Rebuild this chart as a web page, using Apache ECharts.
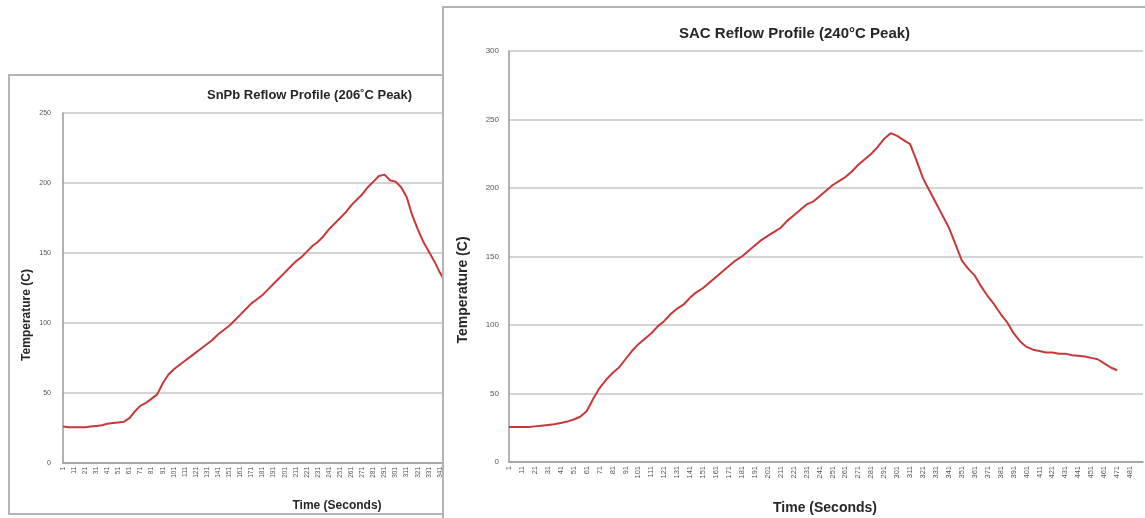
<!DOCTYPE html>
<html>
<head>
<meta charset="utf-8">
<title>Reflow profiles</title>
<script src="https://cdn.jsdelivr.net/npm/echarts@6/dist/echarts.min.js"></script>
<style>
  html, body { margin: 0; padding: 0; width: 1145px; height: 518px; overflow: hidden; background: #fff; }
  #snpbBox { position: absolute; left: 8px; top: 74px; width: 435px; height: 437px; overflow: hidden;
             border: 2px solid #b4b4b4; border-right: none; background: #fff; }
  #snpb { width: 520px; height: 437px; }
  #sac { position: absolute; left: 442px; top: 6px; width: 703px; height: 530px;
         border-left: 2px solid #b4b4b4; border-top: 2px solid #b4b4b4; background: #fff; }
</style>
</head>
<body>
<div id="snpbBox"><div id="snpb"></div></div>
<div id="sac"></div>
<script>
// SnPb profile, one reading every 5 s
const snpbTimes = [1, 6, 11, 16, 21, 26, 31, 36, 41, 46, 51, 56, 61, 66, 71, 76, 81, 86, 91, 96,
  101, 106, 111, 116, 121, 126, 131, 136, 141, 146, 151, 156, 161, 166, 171, 176, 181, 186, 191, 196,
  201, 206, 211, 216, 221, 226, 231, 236, 241, 246, 251, 256, 261, 266, 271, 276, 281, 286, 291, 296,
  301, 306, 311, 316, 321, 326, 331, 336, 341, 346, 351]
const snpbTemp = [26, 25.5, 25.5, 25.5, 25.5, 26, 26.5, 27, 28, 28.5, 29, 29.5, 32, 37, 41, 43, 46, 49, 57, 63,
  67, 70, 73, 76, 79, 82, 85, 88, 92, 95, 98, 102, 106, 110, 114, 117, 120, 124, 128, 132,
  136, 140, 144, 147, 151, 155, 158, 162, 167, 171, 175, 179, 184, 188, 192, 197, 201, 205, 206, 202,
  201, 197, 190, 177, 167, 158, 151, 144, 136, 129, 122]

// SAC profile, one reading every 5 s
const sacTimes = [1, 6, 11, 16, 21, 26, 31, 36, 41, 46, 51, 56, 61, 66, 71, 76, 81, 86, 91, 96,
  101, 106, 111, 116, 121, 126, 131, 136, 141, 146, 151, 156, 161, 166, 171, 176, 181, 186, 191, 196,
  201, 206, 211, 216, 221, 226, 231, 236, 241, 246, 251, 256, 261, 266, 271, 276, 281, 286, 291, 296,
  301, 306, 311, 316, 321, 326, 331, 336, 341, 346, 351, 356, 361, 366, 371, 376, 381, 386, 391, 396,
  401, 406, 411, 416, 421, 426, 431, 436, 441, 446, 451, 456, 461, 466, 471, 476, 481, 486, 491]
const sacTemp = [25.5, 25.5, 25.5, 25.5, 26, 26.5, 27, 27.5, 28.5, 29.5, 31, 33, 37, 46, 54, 60, 65, 69, 75, 81,
  86, 90, 94, 99, 103, 108, 112, 115, 120, 124, 127, 131, 135, 139, 143, 147, 150, 154, 158, 162,
  165, 168, 171, 176, 180, 184, 188, 190, 194, 198, 202, 205, 208, 212, 217, 221, 225, 230, 236, 240,
  238, 235, 232, 220, 207, 198, 189, 180, 171, 159, 147, 141, 136, 128, 121, 115, 108, 102, 94, 88,
  84, 82, 81, 80, 80, 79, 79, 78, 77.5, 77, 76, 75, 72, 69, 67, null, null, null, null]

const lineColor = '#c8383a'
const gridGrey = '#c4c4c4'
const labelGrey = '#555'
const fontFam = '"Liberation Sans", Arial, sans-serif'

function profileOption(cfg) {
  return {
    animation: false,
    title: {
      text: cfg.title,
      left: cfg.titleLeft,
      top: cfg.titleTop,
      textStyle: { fontFamily: fontFam, fontWeight: 'bold', fontSize: cfg.titleSize, color: '#262626' }
    },
    grid: cfg.grid,
    xAxis: {
      type: 'category',
      data: cfg.times,
      boundaryGap: false,
      axisLine: { lineStyle: { color: '#9a9a9a', width: 1.5 } },
      axisTick: { show: false },
      axisLabel: {
        rotate: 90,
        fontSize: cfg.tickSize,
        fontFamily: fontFam,
        color: labelGrey,
        margin: 4,
        interval: (i, v) => i % 2 === 0 && v !== cfg.hideLabel
      },
      splitLine: { show: false }
    },
    yAxis: {
      type: 'value',
      min: 0,
      max: cfg.yMax,
      interval: 50,
      axisLine: { show: true, lineStyle: { color: '#9a9a9a', width: 1.5 } },
      axisTick: { show: false },
      axisLabel: { fontSize: cfg.yTickSize, fontFamily: fontFam, color: labelGrey, margin: cfg.yMargin },
      splitLine: { lineStyle: { color: gridGrey, width: 1.5 } }
    },
    graphic: [
      {
        type: 'text', x: cfg.yName[0], y: cfg.yName[1], rotation: Math.PI / 2,
        style: { text: 'Temperature (C)', align: 'center', verticalAlign: 'middle',
                 font: 'bold ' + cfg.nameSize + 'px ' + fontFam, fill: '#262626' }
      },
      {
        type: 'text', x: cfg.xName[0], y: cfg.xName[1],
        style: { text: 'Time (Seconds)', align: 'center', verticalAlign: 'middle',
                 font: 'bold ' + cfg.nameSize + 'px ' + fontFam, fill: '#262626' }
      }
    ],
    series: [{
      type: 'line',
      data: cfg.temps,
      showSymbol: false,
      connectNulls: false,
      lineStyle: { color: lineColor, width: 2 }
    }]
  }
}

const snpbChart = echarts.init(document.getElementById('snpb'))
snpbChart.setOption(profileOption({
  title: 'SnPb Reflow Profile (206˚C Peak)',
  titleLeft: 192, titleTop: 8, titleSize: 13,
  grid: { left: 53, top: 37, right: 79, bottom: 50 },
  times: snpbTimes, temps: snpbTemp, yMax: 250,
  tickSize: 6.5, yTickSize: 7, yMargin: 12, hideLabel: null,
  yName: [17, 239], xName: [327, 430], nameSize: 12
}))

const sacChart = echarts.init(document.getElementById('sac'))
sacChart.setOption(profileOption({
  title: 'SAC Reflow Profile (240°C Peak)',
  titleLeft: 230, titleTop: 13, titleSize: 15,
  grid: { left: 65, top: 43, right: 4, bottom: 76 },
  times: sacTimes, temps: sacTemp, yMax: 300,
  tickSize: 7.5, yTickSize: 8, yMargin: 10, hideLabel: '491',
  yName: [19, 282], xName: [381, 500], nameSize: 14
}))
</script>
</body>
</html>
